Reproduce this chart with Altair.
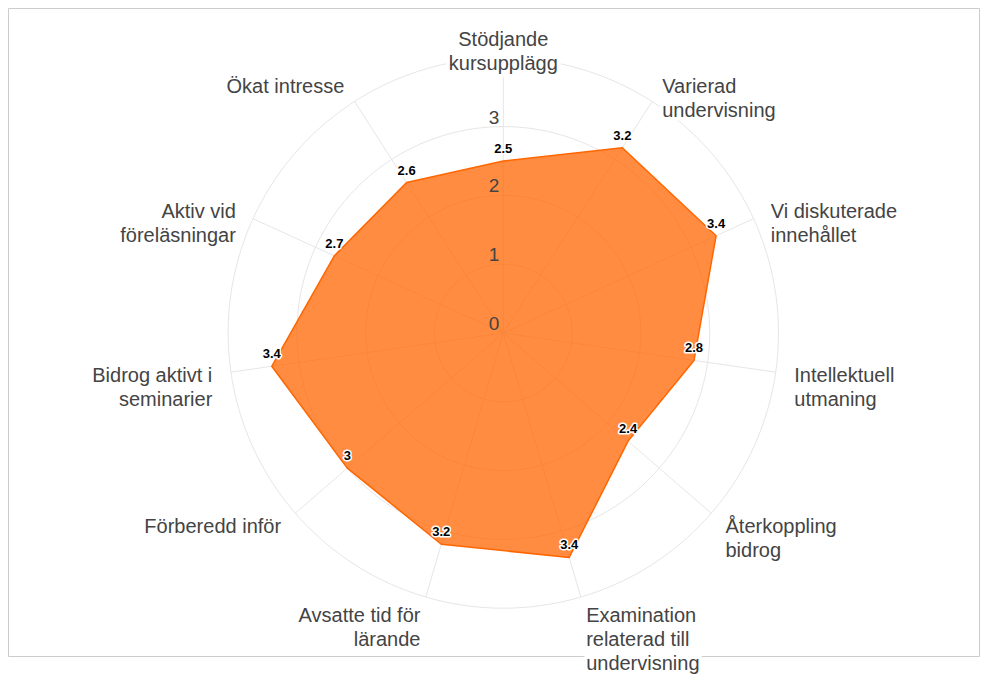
import math
import altair as alt
import pandas as pd

# ---- data ----
categories = [
    "Stödjande\nkursupplägg",
    "Varierad\nundervisning",
    "Vi diskuterade\ninnehållet",
    "Intellektuell\nutmaning",
    "Återkoppling\nbidrog",
    "Examination\nrelaterad till\nundervisning",
    "Avsatte tid för\nlärande",
    "Förberedd inför",
    "Bidrog aktivt i\nseminarier",
    "Aktiv vid\nföreläsningar",
    "Ökat intresse",
]
values = [2.5, 3.2, 3.4, 2.8, 2.4, 3.4, 3.2, 3.0, 3.4, 2.7, 2.6]
grid_levels = [1, 2, 3, 4]
tick_values = [0, 1, 2, 3]

# ---- layout ----
W, H = 971, 648            # view (framed) size; page is 972px wide inside the margins
CX, CY = 495.3, 325.0      # polar centre in px inside the view
PX = 68.8                  # px per unit of radius
RMAX = 4
LABEL_R = 294 / PX
FONT = "Liberation Sans"
TXT = "#444444"

xscale = alt.Scale(domain=[-CX / PX, (W - CX) / PX], nice=False, zero=False)
yscale = alt.Scale(domain=[-(H - CY) / PX, CY / PX], nice=False, zero=False)

n = len(values)
cat_df = pd.DataFrame({
    "idx": list(range(n)),
    "label": categories,
    "value": values,
})
cat_df["angle"] = cat_df["idx"] * 2 * math.pi / n
cat_df["align"] = [
    "center" if abs(math.sin(a)) < 0.05 else ("left" if math.sin(a) > 0 else "right")
    for a in cat_df["angle"]
]

# polygon (closed)
poly_df = pd.concat([cat_df, cat_df.iloc[[0]].assign(idx=n)], ignore_index=True)

# grid circles
deg = list(range(0, 361, 2))
circ_df = pd.DataFrame([(lv, d) for lv in grid_levels for d in deg], columns=["level", "deg"])

tick_df = pd.DataFrame({"tick": tick_values})

X = lambda f: alt.X(f, type="quantitative", scale=xscale, axis=None)
Y = lambda f: alt.Y(f, type="quantitative", scale=yscale, axis=None)

circles = alt.Chart(circ_df).transform_calculate(
    x="datum.level * sin(datum.deg * PI / 180)",
    y="datum.level * cos(datum.deg * PI / 180)",
).mark_line(stroke="#e6e6e6", strokeWidth=1).encode(
    x=X("x"), y=Y("y"), detail="level:N", order="deg:Q"
)

spokes = alt.Chart(cat_df).transform_calculate(
    x0="0", y0="0",
    x1=f"{RMAX} * sin(datum.angle)",
    y1=f"{RMAX} * cos(datum.angle)",
).mark_rule(stroke="#e6e6e6", strokeWidth=1).encode(
    x=X("x0"), y=Y("y0"), x2="x1:Q", y2="y1:Q"
)

area = alt.Chart(poly_df).transform_calculate(
    x="datum.value * sin(datum.angle)",
    y="datum.value * cos(datum.angle)",
).mark_line(
    fill="#ff6600", fillOpacity=0.75, stroke="#ff6600", strokeWidth=1.5, strokeJoin="round"
).encode(x=X("x"), y=Y("y"), order="idx:Q")

ticks = alt.Chart(tick_df).transform_calculate(x0="0").mark_text(
    font=FONT, fontSize=19, color=TXT, align="right", baseline="alphabetic", dx=-4, dy=-3
).encode(x=X("x0"), y=Y("tick"), text="tick:Q")

pts = alt.Chart(cat_df).transform_calculate(
    x="datum.value * sin(datum.angle)",
    y="datum.value * cos(datum.angle)",
)
dl_halo = pts.mark_text(
    font=FONT, fontSize=13, fontWeight="bold", align="center", baseline="alphabetic", dy=-8,
    fill="white", stroke="white", strokeWidth=3, strokeJoin="round"
).encode(x=X("x"), y=Y("y"), text=alt.Text("value:Q", format="~g"))
dl_text = pts.mark_text(
    font=FONT, fontSize=13, fontWeight="bold", align="center", baseline="alphabetic", dy=-8,
    fill="black"
).encode(x=X("x"), y=Y("y"), text=alt.Text("value:Q", format="~g"))

lab_base = alt.Chart(cat_df).transform_calculate(
    lx=f"{LABEL_R} * sin(datum.angle)",
    ly=f"{LABEL_R} * cos(datum.angle)",
)
label_layers = []
for al in ["center", "left", "right"]:
    sub = lab_base.transform_filter(alt.datum.align == al)
    label_layers.append(sub.mark_text(
        font=FONT, fontSize=20, lineBreak="\n", lineHeight=24, align=al, baseline="alphabetic",
        dy=7, fill="white", stroke="white", strokeWidth=8, strokeJoin="round"
    ).encode(x=X("lx"), y=Y("ly"), text="label:N"))
for al in ["center", "left", "right"]:
    sub = lab_base.transform_filter(alt.datum.align == al)
    label_layers.append(sub.mark_text(
        font=FONT, fontSize=20, lineBreak="\n", lineHeight=24, align=al, baseline="alphabetic",
        dy=7, fill=TXT
    ).encode(x=X("lx"), y=Y("ly"), text="label:N"))

chart = alt.layer(
    circles, spokes, area, ticks, *label_layers, dl_halo, dl_text
).properties(
    width=W, height=H,
    padding={"left": 0, "top": 0, "right": 1, "bottom": 22},
    autosize=alt.AutoSizeParams(type="none"),
    background="white",
).configure_view(stroke="#cccccc", strokeWidth=1)

chart.save("out.html", embed_options={"renderer": "svg", "actions": False})
